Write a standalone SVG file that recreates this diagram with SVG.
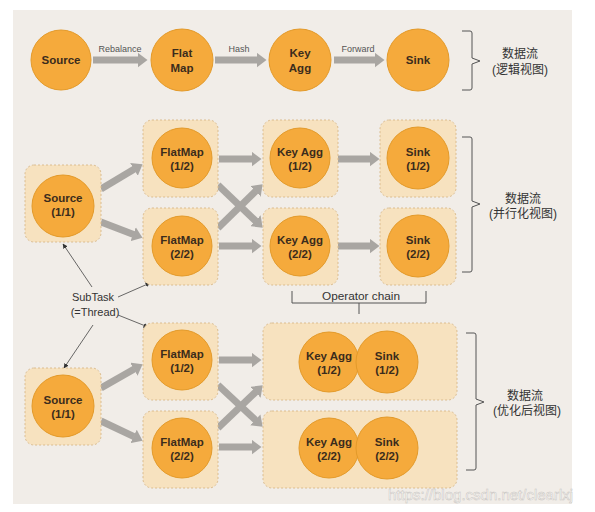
<svg xmlns="http://www.w3.org/2000/svg" width="595" height="512" viewBox="0 0 595 512">
<defs>
<style>
.panel{fill:#f1ede8}
.c{fill:#f5aa3c;stroke:#e39a2a;stroke-width:1}
.box{fill:#f7e2bf;stroke:#d8b888;stroke-width:0.9;stroke-dasharray:2 2}
.t{font-family:"Liberation Sans",Arial,sans-serif;font-weight:bold;font-size:11.5px;fill:#3b2c1c;text-anchor:middle}
.lbl{font-family:"Liberation Sans",Arial,sans-serif;font-size:9px;fill:#555;text-anchor:middle}
.note{font-family:"Liberation Sans",Arial,sans-serif;font-size:11px;fill:#333;text-anchor:middle}
.cn{font-family:"Liberation Sans","Noto Sans CJK SC",sans-serif;font-size:12px;fill:#333;text-anchor:middle}
.fat{stroke:#a9a6a2;stroke-width:7;fill:none;marker-end:url(#big)}
.thin{stroke:#444;stroke-width:0.8;fill:none;marker-end:url(#small)}
.br{stroke:#555;stroke-width:1;fill:none}
</style>
<marker id="big" markerUnits="userSpaceOnUse" markerWidth="10" markerHeight="15" viewBox="0 0 10 15" refX="0.5" refY="7.5" orient="auto">
<path d="M0,0 L10,7.5 L0,15 z" fill="#a9a6a2"/>
</marker>
<marker id="small" markerUnits="userSpaceOnUse" markerWidth="5" markerHeight="5" viewBox="0 0 5 5" refX="4.5" refY="2.5" orient="auto">
<path d="M0,0 L5,2.5 L0,5 z" fill="#333"/>
</marker>
</defs>
<rect x="0" y="0" width="595" height="512" fill="#ffffff"/>
<rect class="panel" x="13" y="10" width="559" height="494"/>

<g id="connectors">
<line class="fat" x1="93" y1="60" x2="138" y2="60"/>
<line class="fat" x1="215" y1="60" x2="257" y2="60"/>
<line class="fat" x1="334" y1="60" x2="375" y2="60"/>
<line class="fat" x1="101" y1="189" x2="134.4" y2="169.1"/>
<line class="fat" x1="101" y1="222" x2="133.6" y2="234.4"/>
<line class="fat" x1="219" y1="159" x2="252" y2="159"/>
<line class="fat" x1="219" y1="246" x2="252" y2="246"/>
<line class="fat" x1="218" y1="185" x2="255.8" y2="221.1"/>
<line class="fat" x1="218" y1="228" x2="255.8" y2="191"/>
<line class="fat" x1="338" y1="159" x2="370" y2="159"/>
<line class="fat" x1="338" y1="246" x2="370" y2="246"/>
<line class="fat" x1="101" y1="388" x2="134.3" y2="369"/>
<line class="fat" x1="101" y1="421" x2="134" y2="436.7"/>
<line class="fat" x1="219" y1="360" x2="252" y2="360"/>
<line class="fat" x1="219" y1="447" x2="252" y2="447"/>
<line class="fat" x1="218" y1="385" x2="255.7" y2="420.2"/>
<line class="fat" x1="218" y1="428" x2="255.8" y2="391.9"/>
<line class="thin" x1="92" y1="287" x2="63" y2="244"/>
<line class="thin" x1="118" y1="297" x2="150" y2="283"/>
<line class="thin" x1="118" y1="315" x2="148" y2="327"/>
<line class="thin" x1="93" y1="325" x2="64" y2="368"/>
<text class="lbl" x="120" y="52">Rebalance</text>
<text class="lbl" x="239" y="52">Hash</text>
<text class="lbl" x="358" y="52">Forward</text>
</g>

<g id="logical-source"><circle class="c" cx="61" cy="60" r="30"/><text class="t" x="61" y="64">Source</text></g>
<g id="logical-flatmap"><circle class="c" cx="182" cy="60" r="31"/><text class="t" x="182" y="57">Flat</text><text class="t" x="182" y="72">Map</text></g>
<g id="logical-keyagg"><circle class="c" cx="300" cy="60" r="31"/><text class="t" x="300" y="57">Key</text><text class="t" x="300" y="72">Agg</text></g>
<g id="logical-sink"><circle class="c" cx="418" cy="60" r="31"/><text class="t" x="418" y="64">Sink</text></g>

<g id="p-source"><rect class="box" x="25" y="165" width="76" height="77" rx="9"/><circle class="c" cx="63" cy="206" r="31"/><text class="t" x="63" y="202">Source</text><text class="t" x="63" y="216">(1/1)</text></g>
<g id="p-flatmap1"><rect class="box" x="143" y="120" width="75" height="77" rx="9"/><circle class="c" cx="182" cy="158" r="30"/><text class="t" x="182" y="156">FlatMap</text><text class="t" x="182" y="170">(1/2)</text></g>
<g id="p-flatmap2"><rect class="box" x="143" y="208" width="75" height="77" rx="9"/><circle class="c" cx="182" cy="246" r="30"/><text class="t" x="182" y="244">FlatMap</text><text class="t" x="182" y="258">(2/2)</text></g>
<g id="p-keyagg1"><rect class="box" x="263" y="120" width="75" height="77" rx="9"/><circle class="c" cx="300" cy="158" r="30"/><text class="t" x="300" y="156">Key Agg</text><text class="t" x="300" y="170">(1/2)</text></g>
<g id="p-keyagg2"><rect class="box" x="263" y="208" width="75" height="77" rx="9"/><circle class="c" cx="300" cy="246" r="30"/><text class="t" x="300" y="244">Key Agg</text><text class="t" x="300" y="258">(2/2)</text></g>
<g id="p-sink1"><rect class="box" x="380" y="120" width="76" height="77" rx="9"/><circle class="c" cx="418" cy="158" r="31"/><text class="t" x="418" y="156">Sink</text><text class="t" x="418" y="170">(1/2)</text></g>
<g id="p-sink2"><rect class="box" x="380" y="208" width="76" height="77" rx="9"/><circle class="c" cx="418" cy="246" r="31"/><text class="t" x="418" y="244">Sink</text><text class="t" x="418" y="258">(2/2)</text></g>

<g id="o-source"><rect class="box" x="25" y="368" width="76" height="77" rx="9"/><circle class="c" cx="63" cy="406" r="31"/><text class="t" x="63" y="404">Source</text><text class="t" x="63" y="418">(1/1)</text></g>
<g id="o-flatmap1"><rect class="box" x="143" y="323" width="75" height="77" rx="9"/><circle class="c" cx="182" cy="360" r="30"/><text class="t" x="182" y="358">FlatMap</text><text class="t" x="182" y="372">(1/2)</text></g>
<g id="o-flatmap2"><rect class="box" x="143" y="411" width="75" height="77" rx="9"/><circle class="c" cx="182" cy="448" r="30"/><text class="t" x="182" y="446">FlatMap</text><text class="t" x="182" y="460">(2/2)</text></g>
<g id="o-chain1"><rect class="box" x="263" y="323" width="194" height="77" rx="9"/><circle class="c" cx="329" cy="362" r="30"/><circle class="c" cx="387" cy="362" r="31"/><text class="t" x="329" y="360">Key Agg</text><text class="t" x="329" y="374">(1/2)</text><text class="t" x="387" y="360">Sink</text><text class="t" x="387" y="374">(1/2)</text></g>
<g id="o-chain2"><rect class="box" x="263" y="411" width="194" height="77" rx="9"/><circle class="c" cx="329" cy="448" r="30"/><circle class="c" cx="387" cy="448" r="31"/><text class="t" x="329" y="446">Key Agg</text><text class="t" x="329" y="460">(2/2)</text><text class="t" x="387" y="446">Sink</text><text class="t" x="387" y="460">(2/2)</text></g>

<g id="subtask-label"><text class="note" x="93" y="301">SubTask</text><text class="note" x="95" y="316">(=Thread)</text></g>

<g id="operator-chain"><path class="br" d="M292,291 L292,303 L426,303 L426,291 M359,303 L359,314"/><text class="note" x="361" y="300" style="font-size:11.8px">Operator chain</text></g>

<g id="bracket-logical"><path class="br" d="M462,31 L470,31 Q472,31 472,33 L472,58 L480,61 L472,64 L472,88 Q472,90 470,90 L462,90"/><text class="cn" x="520" y="58">数据流</text><text class="cn" x="520" y="74">(逻辑视图)</text></g>
<g id="bracket-parallel"><path class="br" d="M462,137 L470,137 Q472,137 472,139 L472,201 L480,204 L472,207 L472,270 Q472,272 470,272 L462,272"/><text class="cn" x="523" y="203">数据流</text><text class="cn" x="523" y="218">(并行化视图)</text></g>
<g id="bracket-optimized"><path class="br" d="M466,333 L474,333 Q476,333 476,335 L476,399 L484,402 L476,405 L476,468 Q476,470 474,470 L466,470"/><text class="cn" x="525" y="400">数据流</text><text class="cn" x="527" y="415">(优化后视图)</text></g>

<text x="388" y="500" style="font-family:'Liberation Sans',Arial,sans-serif;font-size:15px;fill:#ffffff;fill-opacity:0.85;stroke:#c8c4c0;stroke-width:0.5">https://blog.csdn.net/clearlxj</text>
</svg>
